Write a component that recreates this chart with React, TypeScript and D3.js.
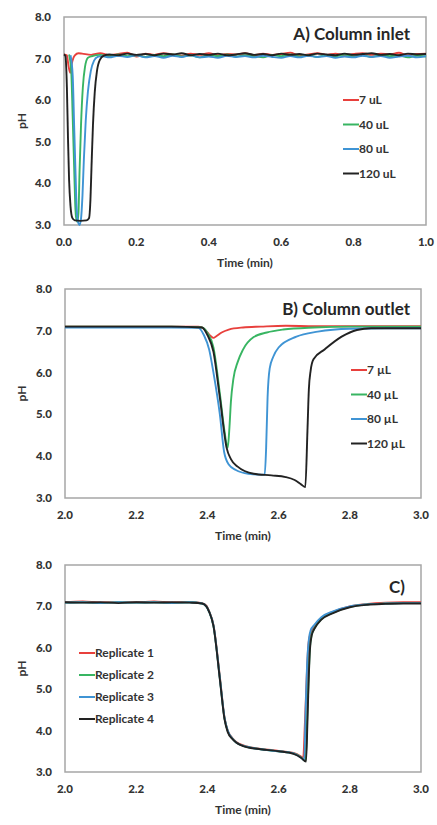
import React from 'react';
import * as d3 from 'd3';

type Pt = [number, number];

// ---------- DATA ----------
const inletTicksX = [0, 0.2, 0.4, 0.6, 0.8, 1.0];
const outletTicksX = [2.0, 2.2, 2.4, 2.6, 2.8, 3.0];
const pHTicks = [3, 4, 5, 6, 7, 8];

const inletLabels = ['7 uL', '40 uL', '80 uL', '120 uL'];
const outletLabels = ['7 µL', '40 µL', '80 µL', '120 µL'];
const replicateLabels = ['Replicate 1', 'Replicate 2', 'Replicate 3', 'Replicate 4'];
const seriesColors = ['#e8403c', '#38b562', '#3f94d4', '#222222'];

// Panel A – column inlet
const inlet7: Pt[] = [
  [0, 7.1], [0.008, 7.08], [0.012, 6.85], [0.017, 6.66], [0.022, 6.9], [0.03, 7.08], [0.04, 7.13],
  [0.05, 7.12], [0.075, 7.09], [0.1, 7.13], [0.125, 7.08], [0.15, 7.11], [0.175, 7.14], [0.2, 7.05],
  [0.225, 7.12], [0.25, 7.09], [0.275, 7.13], [0.3, 7.1], [0.325, 7.07], [0.35, 7.12], [0.375, 7.09],
  [0.4, 7.13], [0.425, 7.08], [0.45, 7.11], [0.475, 7.1], [0.5, 7.13], [0.525, 7.08], [0.55, 7.12],
  [0.575, 7.09], [0.6, 7.11], [0.625, 7.14], [0.65, 7.08], [0.675, 7.1], [0.7, 7.13], [0.725, 7.09],
  [0.75, 7.12], [0.775, 7.08], [0.8, 7.11], [0.825, 7.13], [0.85, 7.09], [0.875, 7.12], [0.9, 7.1],
  [0.925, 7.14], [0.95, 7.08], [0.975, 7.11], [1.0, 7.12],
];
const inlet40: Pt[] = [
  [0.014, 7.1], [0.02, 6.7], [0.024, 5.6], [0.028, 4.4], [0.031, 3.5], [0.034, 3.15], [0.037, 3.08],
  [0.04, 3.3], [0.043, 4.3], [0.047, 5.4], [0.052, 6.3], [0.058, 6.8], [0.066, 7.02],
  [0.078, 7.06], [0.1, 7.09], [0.125, 7.05], [0.15, 7.1], [0.175, 7.06], [0.2, 7.08], [0.225, 7.04],
  [0.25, 7.09], [0.275, 7.06], [0.3, 7.1], [0.325, 7.05], [0.35, 7.08], [0.375, 7.03], [0.4, 7.09],
  [0.425, 7.06], [0.45, 7.1], [0.475, 7.05], [0.5, 7.08], [0.525, 7.06], [0.55, 7.03], [0.575, 7.09],
  [0.6, 7.06], [0.625, 7.1], [0.65, 7.05], [0.675, 7.08], [0.7, 7.04], [0.725, 7.09], [0.75, 7.06],
  [0.775, 7.1], [0.8, 7.05], [0.825, 7.08], [0.85, 7.04], [0.875, 7.09], [0.9, 7.06], [0.925, 7.08],
  [0.95, 7.03], [0.975, 7.07], [1.0, 7.05],
];
const inlet80: Pt[] = [
  [0.018, 7.08], [0.024, 6.6], [0.028, 5.4], [0.032, 4.2], [0.035, 3.4], [0.039, 3.06], [0.043, 3.0],
  [0.047, 3.15], [0.051, 3.7], [0.055, 4.6], [0.06, 5.5], [0.066, 6.2], [0.074, 6.7], [0.083, 6.95],
  [0.093, 7.04], [0.105, 7.06], [0.125, 7.03], [0.15, 7.07], [0.175, 7.04], [0.2, 7.08], [0.225, 7.03],
  [0.25, 7.06], [0.275, 7.02], [0.3, 7.07], [0.325, 7.04], [0.35, 7.08], [0.375, 7.03], [0.4, 7.05],
  [0.425, 7.02], [0.45, 7.07], [0.475, 7.04], [0.5, 7.06], [0.525, 7.03], [0.55, 7.07], [0.575, 7.04],
  [0.6, 7.02], [0.625, 7.06], [0.65, 7.03], [0.675, 7.07], [0.7, 7.04], [0.725, 7.06], [0.75, 7.02],
  [0.775, 7.05], [0.8, 7.03], [0.825, 7.07], [0.85, 7.04], [0.875, 7.06], [0.9, 7.02], [0.925, 7.05],
  [0.95, 7.07], [0.975, 7.03], [1.0, 7.06],
];
const inlet120: Pt[] = [
  [0, 7.1], [0.004, 7.06], [0.008, 6.3], [0.011, 5.1], [0.014, 4.1], [0.018, 3.45], [0.023, 3.17],
  [0.03, 3.11], [0.045, 3.1], [0.062, 3.11], [0.069, 3.16], [0.073, 3.6], [0.076, 4.4], [0.08, 5.4],
  [0.085, 6.2], [0.091, 6.7], [0.099, 6.97], [0.11, 7.07], [0.125, 7.1], [0.15, 7.08], [0.175, 7.12],
  [0.2, 7.09], [0.225, 7.11], [0.25, 7.08], [0.275, 7.12], [0.3, 7.1], [0.325, 7.13], [0.35, 7.08],
  [0.375, 7.11], [0.4, 7.09], [0.425, 7.12], [0.45, 7.08], [0.475, 7.1], [0.5, 7.13], [0.525, 7.09],
  [0.55, 7.11], [0.575, 7.08], [0.6, 7.12], [0.625, 7.09], [0.65, 7.11], [0.675, 7.08], [0.7, 7.12],
  [0.725, 7.1], [0.75, 7.08], [0.775, 7.12], [0.8, 7.09], [0.825, 7.11], [0.85, 7.13], [0.875, 7.09],
  [0.9, 7.11], [0.925, 7.08], [0.95, 7.12], [0.975, 7.1], [1.0, 7.11],
];

// Panel B – column outlet
const outlet7: Pt[] = [
  [2.0, 7.1], [2.1, 7.1], [2.2, 7.1], [2.3, 7.1], [2.375, 7.1], [2.39, 7.05], [2.4, 6.96],
  [2.41, 6.87], [2.417, 6.83], [2.425, 6.87], [2.44, 6.96], [2.46, 7.03], [2.5, 7.08], [2.55, 7.1],
  [2.62, 7.12], [2.7, 7.11], [2.8, 7.11], [2.9, 7.11], [3.0, 7.11],
];
const outlet40: Pt[] = [
  [2.0, 7.1], [2.1, 7.1], [2.2, 7.1], [2.3, 7.1], [2.385, 7.08], [2.4, 6.95], [2.417, 6.6],
  [2.435, 5.5], [2.448, 4.6], [2.457, 4.2], [2.462, 4.7], [2.466, 5.3], [2.473, 5.85], [2.485, 6.25],
  [2.5, 6.55], [2.53, 6.85], [2.567, 6.96], [2.613, 7.03], [2.7, 7.08], [2.8, 7.1], [3.0, 7.1],
];
const outlet80: Pt[] = [
  [2.0, 7.08], [2.1, 7.08], [2.2, 7.08], [2.3, 7.08], [2.375, 7.07], [2.39, 6.9], [2.405, 6.55],
  [2.417, 6.0], [2.435, 5.0], [2.447, 4.1], [2.46, 3.8], [2.48, 3.67], [2.515, 3.58], [2.55, 3.56],
  [2.561, 3.56], [2.565, 4.2], [2.569, 5.4], [2.575, 6.1], [2.585, 6.38], [2.6, 6.6], [2.65, 6.86],
  [2.71, 6.98], [2.8, 7.05], [2.9, 7.06], [3.0, 7.06],
];
const outlet120: Pt[] = [
  [2.0, 7.1], [2.1, 7.1], [2.2, 7.1], [2.3, 7.1], [2.385, 7.08], [2.4, 6.9], [2.417, 6.5],
  [2.435, 5.4], [2.454, 4.2], [2.466, 3.93], [2.485, 3.75], [2.53, 3.58], [2.58, 3.54], [2.62, 3.5],
  [2.645, 3.43], [2.664, 3.32], [2.675, 3.26], [2.681, 4.6], [2.685, 5.6], [2.69, 6.05], [2.698, 6.32],
  [2.73, 6.56], [2.777, 6.86], [2.82, 7.02], [2.86, 7.06], [2.95, 7.06], [3.0, 7.06],
];

// Panel C – replicates
const rep1: Pt[] = [
  [2.0, 7.1], [2.05, 7.12], [2.1, 7.09], [2.15, 7.11], [2.2, 7.1], [2.25, 7.12], [2.3, 7.09],
  [2.35, 7.11], [2.385, 7.08], [2.397, 7.02], [2.405, 6.88], [2.417, 6.55], [2.435, 5.3],
  [2.448, 4.32], [2.457, 4.0], [2.47, 3.82], [2.48, 3.73], [2.51, 3.62], [2.55, 3.56], [2.6, 3.51],
  [2.642, 3.46], [2.662, 3.38], [2.669, 3.34], [2.674, 4.2], [2.679, 5.3], [2.684, 6.1], [2.69, 6.36],
  [2.7, 6.5], [2.72, 6.72], [2.753, 6.87], [2.8, 7.0], [2.85, 7.06], [2.9, 7.09], [2.95, 7.1], [3.0, 7.1],
];
const rep2: Pt[] = [
  [2.0, 7.09], [2.05, 7.1], [2.1, 7.08], [2.15, 7.1], [2.2, 7.09], [2.25, 7.1], [2.3, 7.08],
  [2.35, 7.1], [2.385, 7.07], [2.397, 7.0], [2.405, 6.87], [2.417, 6.53], [2.435, 5.26],
  [2.448, 4.3], [2.457, 3.99], [2.47, 3.81], [2.48, 3.72], [2.51, 3.61], [2.55, 3.55], [2.6, 3.5],
  [2.642, 3.45], [2.664, 3.35], [2.676, 3.26], [2.68, 4.2], [2.684, 5.2], [2.688, 6.0], [2.693, 6.32],
  [2.7, 6.46], [2.72, 6.69], [2.753, 6.85], [2.8, 6.99], [2.85, 7.05], [2.9, 7.07], [2.95, 7.08], [3.0, 7.08],
];
const rep3: Pt[] = [
  [2.0, 7.09], [2.05, 7.1], [2.1, 7.08], [2.15, 7.1], [2.2, 7.09], [2.25, 7.1], [2.3, 7.08],
  [2.35, 7.1], [2.385, 7.07], [2.397, 7.0], [2.405, 6.87], [2.417, 6.54], [2.435, 5.27],
  [2.448, 4.31], [2.457, 4.0], [2.47, 3.81], [2.48, 3.72], [2.51, 3.61], [2.55, 3.55], [2.6, 3.5],
  [2.642, 3.45], [2.664, 3.34], [2.672, 3.28], [2.676, 4.5], [2.68, 5.6], [2.685, 6.2], [2.69, 6.42],
  [2.7, 6.55], [2.72, 6.74], [2.753, 6.88], [2.8, 7.0], [2.85, 7.05], [2.9, 7.07], [2.95, 7.08], [3.0, 7.08],
];
const rep4: Pt[] = [
  [2.0, 7.1], [2.05, 7.09], [2.1, 7.1], [2.15, 7.08], [2.2, 7.1], [2.25, 7.09], [2.3, 7.1],
  [2.35, 7.09], [2.385, 7.07], [2.397, 7.0], [2.405, 6.87], [2.417, 6.53], [2.435, 5.24],
  [2.448, 4.28], [2.457, 3.97], [2.47, 3.8], [2.48, 3.72], [2.51, 3.6], [2.55, 3.55], [2.6, 3.5],
  [2.642, 3.44], [2.664, 3.34], [2.677, 3.25], [2.681, 4.2], [2.684, 5.1], [2.688, 5.95], [2.693, 6.3],
  [2.7, 6.45], [2.72, 6.68], [2.753, 6.84], [2.8, 6.98], [2.85, 7.04], [2.9, 7.06], [2.95, 7.07], [3.0, 7.07],
];

// ---------- DRAWING ----------
const FONT = 'Lato, "Open Sans", sans-serif';
const TEXT = '#333333';

interface PanelProps {
  left: number; right: number; top: number; bottom: number;
  xDomain: [number, number]; xTicks: number[];
  series: Pt[][]; labels: string[];
  legendX: number; legendY: number; legendGap: number;
  title: string; titleX: number; titleY: number;
}

function Panel(p: PanelProps) {
  const x = d3.scaleLinear().domain(p.xDomain).range([p.left, p.right]);
  const y = d3.scaleLinear().domain([3, 8]).range([p.bottom, p.top]);
  const line = d3.line<Pt>().x(d => x(d[0])).y(d => y(d[1])).curve(d3.curveMonotoneX);
  const fmt = d3.format('.1f');
  return (
    <g>
      <rect x={p.left} y={p.top} width={p.right - p.left} height={p.bottom - p.top}
        fill="none" stroke="#a6a6a6" strokeWidth={1.5} />
      <g filter="url(#soft)">
        {p.series.map((s, i) => (
          <path key={i} d={line(s) || ''} fill="none" stroke={seriesColors[i]}
            strokeWidth={1.9} strokeLinejoin="round" />
        ))}
      </g>
      {pHTicks.map(t => (
        <text key={'y' + t} x={p.left - 13} y={y(t)} dy="0.35em" textAnchor="end"
          fontFamily={FONT} fontWeight={900} fontSize={11.5} fill={TEXT}>{fmt(t)}</text>
      ))}
      {p.xTicks.map(t => (
        <text key={'x' + t} x={x(t)} y={p.bottom + 21} textAnchor="middle"
          fontFamily={FONT} fontWeight={900} fontSize={11.5} fill={TEXT}>{fmt(t)}</text>
      ))}
      <text x={(p.left + p.right) / 2} y={p.bottom + 42} textAnchor="middle"
        fontFamily={FONT} fontWeight={700} fontSize={12} fill={TEXT}>Time (min)</text>
      <text transform={`translate(26,${(p.top + p.bottom) / 2}) rotate(-90)`} textAnchor="middle"
        fontFamily={FONT} fontWeight={700} fontSize={12} fill={TEXT}>pH</text>
      <text x={p.titleX} y={p.titleY} textAnchor="end" fontFamily={FONT} fontWeight={700}
        fontSize={17} fill="#262626">{p.title}</text>
      {p.labels.map((lab, i) => (
        <g key={lab} transform={`translate(${p.legendX},${p.legendY + i * p.legendGap})`}>
          <line x1={0} x2={16} y1={0} y2={0} stroke={seriesColors[i]} strokeWidth={2} />
          <text x={16} y={0} dy="0.35em" fontFamily={FONT} fontWeight={700} fontSize={12}
            fill={TEXT}>{lab}</text>
        </g>
      ))}
    </g>
  );
}

export default function App() {
  return (
    <svg width={437} height={825} style={{ position: 'absolute', left: 0, top: 0, background: '#fff' }}>
      <defs>
        <filter id="soft" x="-5%" y="-5%" width="110%" height="110%">
          <feGaussianBlur stdDeviation={0.35} />
        </filter>
      </defs>
      <Panel left={64} right={426} top={17} bottom={225} xDomain={[0, 1]} xTicks={inletTicksX}
        series={[inlet7, inlet40, inlet80, inlet120]} labels={inletLabels}
        legendX={343} legendY={100} legendGap={24.5}
        title="A) Column inlet" titleX={410} titleY={40} />
      <Panel left={65} right={421} top={289} bottom={498} xDomain={[2, 3]} xTicks={outletTicksX}
        series={[outlet7, outlet40, outlet80, outlet120]} labels={outletLabels}
        legendX={351} legendY={370} legendGap={24.5}
        title="B) Column outlet" titleX={410} titleY={315} />
      <Panel left={65} right={421} top={565} bottom={772} xDomain={[2, 3]} xTicks={outletTicksX}
        series={[rep1, rep2, rep3, rep4]} labels={replicateLabels}
        legendX={79} legendY={653} legendGap={22}
        title="C)" titleX={405} titleY={593} />
    </svg>
  );
}
